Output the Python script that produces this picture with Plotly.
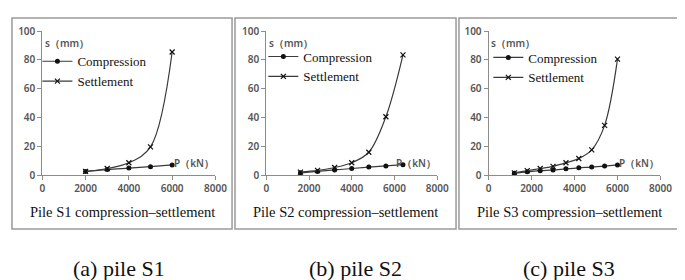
import plotly.graph_objects as go

# ---- data ----
s1_load = [2000, 3000, 4000, 5000, 6000]
s1_comp = [2.5, 3.8, 4.8, 5.8, 7.0]
s1_sett = [2.5, 4.5, 8.5, 19.5, 85.5]

s2_load = [1600, 2400, 3200, 4000, 4800, 5600, 6400]
s2_comp = [1.5, 2.5, 3.5, 4.5, 5.5, 6.3, 7.2]
s2_sett = [2.0, 3.2, 5.2, 8.5, 15.8, 40.5, 83.5]

s3_load = [1200, 1800, 2400, 3000, 3600, 4200, 4800, 5400, 6000]
s3_comp = [1.2, 2.2, 3.0, 3.5, 4.3, 5.0, 5.5, 6.2, 7.0]
s3_sett = [1.5, 3.0, 4.5, 6.0, 8.5, 11.5, 17.5, 34.5, 80.5]

panel_titles = ["Pile S1 compression\u2013settlement",
                "Pile S2 compression\u2013settlement",
                "Pile S3 compression\u2013settlement"]
captions = ["(a) pile S1", "(b) pile S2", "(c) pile S3"]
x_ticks = [0, 2000, 4000, 6000, 8000]
y_ticks = [0, 20, 40, 60, 80, 100]
series_names = ["Compression", "Settlement"]

W, H = 685, 280
def px(x): return x / W
def py(y): return 1 - y / H

x_domains = [(32, 209), (261, 435.7), (488.3, 664)]
y_dom = [py(168), py(16)]
boxes = [(1, 226), (229, 455), (458, 683)]
caption_x = [110, 352, 570]
legend_pos = [(27, 32), (258, 27), (488, 28)]

data = [(s1_load, s1_comp, s1_sett), (s2_load, s2_comp, s2_sett), (s3_load, s3_comp, s3_sett)]

fig = go.Figure()
line_col = "#3a3a3a"
tick_font = dict(family="Noto Sans", size=10, color="#555555", weight=600)

for i, (ld, cp, st) in enumerate(data):
    xa = "x" if i == 0 else f"x{i+1}"
    ya = "y" if i == 0 else f"y{i+1}"
    lg = "legend" if i == 0 else f"legend{i+1}"
    fig.add_trace(go.Scatter(x=ld, y=cp, mode="lines+markers", name=series_names[0],
                             line=dict(color=line_col, width=1.2, shape="spline"),
                             marker=dict(symbol="circle", size=5, color="#111"),
                             xaxis=xa, yaxis=ya, legend=lg))
    fig.add_trace(go.Scatter(x=ld, y=st, mode="lines+markers", name=series_names[1],
                             line=dict(color=line_col, width=1.2, shape="spline"),
                             marker=dict(symbol="x-thin", size=5, color="#111",
                                         line=dict(width=1.2, color="#111")),
                             xaxis=xa, yaxis=ya, legend=lg))
    xd = x_domains[i]
    axis_common = dict(showgrid=False, zeroline=False, showline=True, linecolor="#8c8c8c",
                       linewidth=1, ticks="outside", ticklen=4, tickcolor="#8c8c8c",
                       tickfont=tick_font)
    fig.update_layout(**{
        ("xaxis" if i == 0 else f"xaxis{i+1}"): dict(domain=[px(xd[0]), px(xd[1])], range=[0, 8000],
                                                   tickvals=x_ticks, anchor=ya, **axis_common),
        ("yaxis" if i == 0 else f"yaxis{i+1}"): dict(domain=y_dom, range=[0, 100],
                                                   tickvals=y_ticks, anchor=xa, **axis_common),
        lg: dict(x=px(legend_pos[i][0]), y=py(legend_pos[i][1]), xanchor="left", yanchor="top",
                 bgcolor="rgba(0,0,0,0)", font=dict(family="Liberation Serif", size=13, color="#111"),
                 itemwidth=30, tracegroupgap=2),
    })
    # axis labels
    fig.add_annotation(x=40, y=92, xref=xa, yref=ya, text="s\uff08mm\uff09", showarrow=False,
                       xanchor="left", yanchor="middle",
                       font=dict(family="Noto Sans", size=10, color="#555555", weight=600))
    fig.add_annotation(x=6000, y=8, xref=xa, yref=ya, text="P\uff08kN\uff09", showarrow=False,
                       xanchor="left", yanchor="middle",
                       font=dict(family="Noto Sans", size=10, color="#555555", weight=600))
    # panel title
    bx = boxes[i]
    fig.add_annotation(x=px((bx[0] + bx[1]) / 2), y=py(207), xref="paper", yref="paper",
                       text=panel_titles[i], showarrow=False, xanchor="center", yanchor="middle",
                       font=dict(family="Liberation Serif", size=14.5, color="#111"))
    fig.add_annotation(x=px(caption_x[i]), y=py(267), xref="paper", yref="paper",
                       text=captions[i], showarrow=False, xanchor="center", yanchor="middle",
                       font=dict(family="Liberation Serif", size=22, color="#111"))
    fig.add_shape(type="rect", xref="paper", yref="paper", x0=px(bx[0]), x1=px(bx[1]),
                  y0=py(225), y1=py(2), line=dict(color="#9a9a9a", width=1.5))

fig.update_layout(width=W, height=H, margin=dict(l=0, r=0, t=0, b=0),
                  plot_bgcolor="white", paper_bgcolor="white", showlegend=True)
fig.write_html("out.html")
